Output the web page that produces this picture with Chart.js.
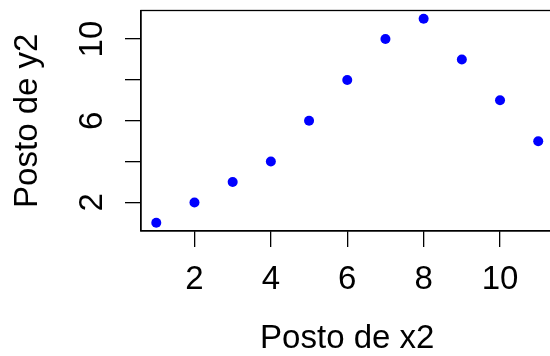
<!DOCTYPE html>
<html>
<head>
<meta charset="utf-8">
<script src="https://cdn.jsdelivr.net/npm/chart.js@4/dist/chart.umd.min.js"></script>
<style>
  html, body { margin: 0; padding: 0; overflow: hidden; background: #fff; }
  canvas { display: block; }
</style>
</head>
<body>
<canvas id="plot" width="560" height="356"></canvas>
<script>
const xValues = [1, 2, 3, 4, 5, 6, 7, 8, 9, 10, 11];
const yValues = [1, 2, 3, 4, 6, 8, 10, 11, 9, 7, 5];
const xTicks = [2, 4, 6, 8, 10];
const yTicks = [2, 4, 6, 8, 10];
const yTickLabels = [2, 6, 10];
const xTitle = "Posto de x2";
const yTitle = "Posto de y2";

const font = "33px 'Liberation Sans', Arial, Helvetica, sans-serif";

// R-style box, rotated y labels and axis titles
const rLabels = {
  id: "rLabels",
  afterDraw(chart) {
    const { ctx, chartArea: a, scales } = chart;
    ctx.save();
    ctx.strokeStyle = "#000";
    ctx.lineWidth = 1.3;
    ctx.strokeRect(a.left, a.top, a.right - a.left, a.bottom - a.top);

    ctx.fillStyle = "#000";
    ctx.font = font;
    ctx.textAlign = "center";
    ctx.textBaseline = "alphabetic";
    xTicks.forEach((v) => {
      ctx.fillText(String(v), scales.x.getPixelForValue(v), 289);
    });
    ctx.fillText(xTitle, (a.left + a.right) / 2, 348);

    yTickLabels.forEach((v) => {
      ctx.save();
      ctx.translate(102, scales.y.getPixelForValue(v));
      ctx.rotate(-Math.PI / 2);
      ctx.fillText(String(v), 0, 0);
      ctx.restore();
    });
    ctx.save();
    ctx.translate(37, (a.top + a.bottom) / 2);
    ctx.rotate(-Math.PI / 2);
    ctx.fillText(yTitle, 0, 0);
    ctx.restore();
    ctx.restore();
  },
};

new Chart(document.getElementById("plot"), {
  type: "scatter",
  data: {
    datasets: [
      {
        data: xValues.map((x, i) => ({ x: x, y: yValues[i] })),
        backgroundColor: "#0000ff",
        borderWidth: 0,
        pointRadius: 5,
        pointHoverRadius: 5,
      },
    ],
  },
  options: {
    responsive: false,
    animation: false,
    layout: { padding: { top: 10.5, right: 6.5, left: 0, bottom: 0 } },
    plugins: { legend: { display: false }, tooltip: { enabled: false } },
    scales: {
      x: {
        type: "linear",
        min: 0.6,
        max: 11.4,
        afterBuildTicks: (s) => { s.ticks = xTicks.map((v) => ({ value: v })); },
        afterFit: (s) => { s.height = 125; },
        ticks: { display: false },
        grid: { drawOnChartArea: false, drawTicks: true, tickLength: 16, color: "#000", lineWidth: 1.3 },
        border: { display: true, color: "#000", width: 1.3 },
      },
      y: {
        type: "linear",
        min: 0.6,
        max: 11.4,
        afterBuildTicks: (s) => { s.ticks = yTicks.map((v) => ({ value: v })); },
        afterFit: (s) => { s.width = 141; },
        ticks: { display: false },
        grid: { drawOnChartArea: false, drawTicks: true, tickLength: 16, color: "#000", lineWidth: 1.3 },
        border: { display: true, color: "#000", width: 1.3 },
      },
    },
  },
  plugins: [rLabels],
});
</script>
</body>
</html>
